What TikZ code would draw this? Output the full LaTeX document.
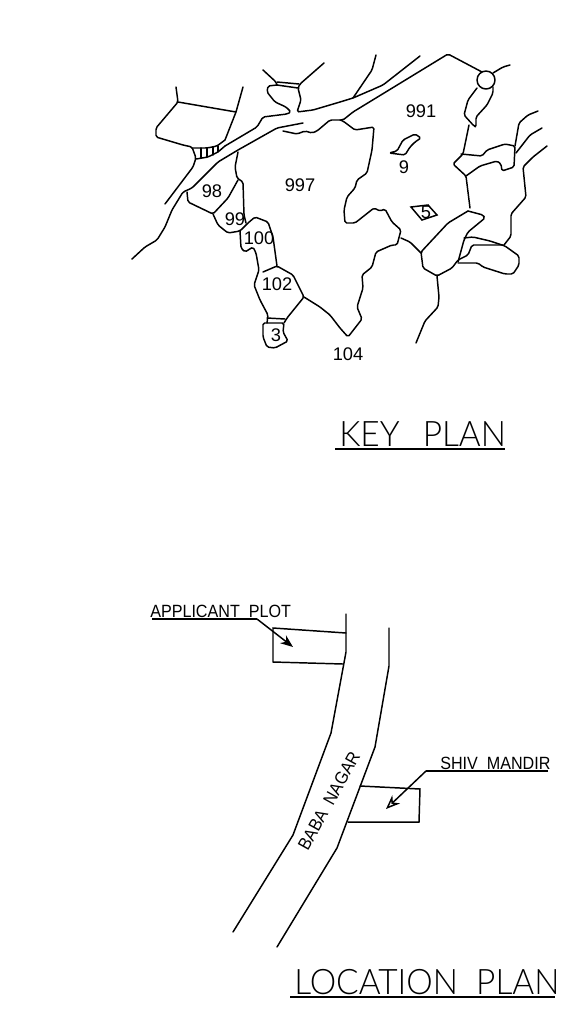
\documentclass[tikz,border=0pt]{standalone}
\usepackage{fontspec}
\setmainfont{Liberation Sans}
\newfontfamily\notefont[FakeStretch=0.91]{Liberation Sans}
\newfontfamily\titlefont[FakeStretch=0.95]{Lato Light}
\usetikzlibrary{arrows.meta}
\tikzset{
  boundary/.style={line width=1.05pt, line join=round, line cap=round, rounded corners=1.2pt},
  straightline/.style={line width=1.05pt, line join=miter, line cap=round},
  underline/.style={line width=1.3pt},
  numlabel/.style={inner sep=0pt, font=\fontsize{13}{15}\selectfont},
  notelabel/.style={inner sep=0pt, anchor=base west, font=\notefont\fontsize{12.6}{14}\selectfont},
  titlelabel/.style={inner sep=0pt, anchor=base west, font=\titlefont\fontsize{25}{28}\selectfont},
  leader/.style={line width=1.05pt, -{Stealth[length=9pt,width=7pt]}}
}
\begin{document}
\begin{tikzpicture}[x=0.025cm,y=-0.025cm]
            \useasboundingbox (0,0) rectangle (573,1034);

            % Key plan, left block
            \draw[boundary] (176,87) -- (178,102) -- (156,128) -- (156,137) -- (183,145) -- (192,147) -- (196,158) -- (193,167) -- (165,204);
            \draw[boundary] (178,102) -- (236,112);
            \draw[boundary] (243,87) -- (236,112) -- (225,140);
            \draw[boundary] (192,148) -- (207,148) -- (217,146) -- (225,140);
            \draw[boundary] (196,159) -- (208,157) -- (218,152) -- (225,146);
            \draw[boundary] (201,148) -- (201,158);
            \draw[boundary] (207,148) -- (207,157);
            \draw[boundary] (213,147) -- (213,155);
            \draw[boundary] (218,146) -- (218,152);

            % Key plan, upper road
            \draw[boundary] (225,146) -- (257,127) -- (263,117) -- (287,114) -- (291,112) -- (286,107) -- (275,102) -- (267,92) -- (268,86) -- (277,85);
            \draw[boundary] (277,82) -- (299,84);
            \draw[boundary] (277,85) -- (298,88);
            \draw[boundary] (263,70) -- (276,82) -- (277,85);
            \draw[boundary] (324,63) -- (300,84) -- (298,88) -- (301,100) -- (297,112) -- (313,110) -- (340,102) -- (353,98) -- (383,85) -- (420,56);
            \draw[boundary] (353,98) -- (372,70) -- (376,55);

            % Key plan, lower road
            \draw[boundary] (132,259) -- (145,247) -- (157,240) -- (165,227) -- (172,210) -- (183,192) -- (192,188) -- (218,162) -- (238,150) -- (277,128) -- (303,123);
            \draw[boundary] (283,131) -- (297,134) -- (305,131) -- (312,133) -- (317,131) -- (330,120) -- (343,120) -- (353,112) -- (448,54) -- (482,72);
            \draw[boundary] (340,120) -- (343,121) -- (355,130) -- (374,127) -- (372,150) -- (367,173) -- (357,180) -- (355,188) -- (347,197) -- (344,210) -- (345,223) -- (355,223) -- (374,208) -- (380,211) -- (385,209) -- (392,222) -- (401,230) -- (397,245) -- (392,245) -- (376,252) -- (372,267) -- (362,275) -- (363,288) -- (357,307) -- (362,319) -- (348,337) -- (340,328) -- (330,315) -- (320,307) -- (304,297);

            % Key plan, numbered plots
            \draw[boundary] (238,152) -- (235,167) -- (237,178) -- (243,182) -- (244,215) -- (246,223);
            \draw[boundary] (187,192) -- (188,202) -- (213,214) -- (228,198) -- (238,180);
            \draw[boundary] (213,214) -- (218,225) -- (228,233) -- (240,231) -- (248,223) -- (255,217) -- (268,222) -- (273,237) -- (277,266);
            \draw[boundary] (240,231) -- (241,248) -- (245,252) -- (253,247) -- (256,253) -- (259,270) -- (254,285) -- (260,300) -- (268,315) -- (267,323);
            \draw[boundary] (263,272) -- (277,266) -- (293,275) -- (304,297) -- (287,318) -- (284,323);
            \draw[boundary] (267,318) -- (285,319);
            \draw[boundary] (263,323) -- (284,323) -- (283,332) -- (288,341) -- (275,348) -- (267,347) -- (263,337) -- cycle;

            % Key plan, circle and right side
            \draw[boundary] (486,80) circle (9);
            \draw[boundary] (493,73) -- (503,67) -- (510,65);
            \draw[boundary] (477,88) -- (468,100) -- (464,115) -- (474,126) -- (476,127) -- (476,117) -- (487,105) -- (493,93) -- (493,87);
            \draw[boundary] (469,125) -- (463,154) -- (453,164) -- (466,176) -- (470,208);
            \draw[boundary] (461,154) -- (482,156) -- (487,150) -- (505,144) -- (515,146) -- (514,167) -- (502,171) -- (501,164) -- (497,161) -- (480,166) -- (466,176);
            \draw[boundary] (515,146) -- (519,123) -- (528,115) -- (538,111);
            \draw[boundary] (516,153) -- (530,135) -- (542,128);
            \draw[boundary] (547,146) -- (533,157) -- (523,167) -- (526,197) -- (511,214) -- (511,236) -- (504,245);
            \draw[boundary] (468,211) -- (483,215) -- (485,218) -- (468,232) -- (464,240) -- (458,262);
            \draw[boundary] (468,211) -- (448,223) -- (421,252) -- (423,268) -- (437,276) -- (452,268) -- (458,260) -- (468,255) -- (472,245) -- (503,245);
            \draw[boundary] (421,253) -- (410,242) -- (401,238);
            \draw[boundary] (464,238) -- (473,237) -- (490,241) -- (505,246) -- (519,256) -- (519,265) -- (513,274) -- (505,274) -- (483,267) -- (478,263) -- (458,263);
            \draw[boundary] (437,276) -- (439,297) -- (438,307) -- (425,321) -- (416,343);
            \draw[straightline] (411,207) -- (428,205) -- (437,215) -- (422,220) -- cycle;
            \draw[boundary] (389,153) -- (397,151) -- (403,140) -- (415,134) -- (421,138) -- (415,142) -- (410,147) -- (405,155) -- cycle;

            % Key plan, labels
            \node[numlabel] (n991) at (421,111) {991};
            \node[numlabel] (n9) at (404,167) {9};
            \node[numlabel] (n997) at (300,185) {997};
            \node[numlabel] (n98) at (212,191) {98};
            \node[numlabel] (n99) at (235,219) {99};
            \node[numlabel] (n100) at (259,238) {100};
            \node[numlabel] (n102) at (277,284) {102};
            \node[numlabel] (n3) at (276,335) {3};
            \node[numlabel] (n5) at (426,212) {5};
            \node[numlabel] (n104) at (348,354) {104};
            \node[titlelabel] (keyplan) at (339,446) {KEY\ \ \hspace{3.5pt}PLAN};
            \draw[underline] (335,449) -- (505,449);

            % Location plan, road
            \draw[straightline] (346,614) -- (346,652) -- (331,733) -- (293,835) -- (233,932);
            \draw[straightline] (389,628) -- (389,666) -- (375,747) -- (337,848) -- (277,947);
            \node[notelabel, rotate=61, anchor=center] (road) at (329,801) {BABA\ \ NAGAR};

            % Location plan, plots
            \draw[straightline] (346,633) -- (273,628) -- (273,662) -- (343,664);
            \draw[straightline] (360,786) -- (420,789) -- (419,822) -- (348,822);

            % Location plan, leaders
            \node[notelabel] (applicant) at (150,617) {APPLICANT\ \ PLOT};
            \coordinate (applicantbend) at (257,619);
            \coordinate (applicanttip) at (293,647);
            \draw[underline] (152,619) -- (applicantbend);
            \draw[leader] (applicantbend) -- (applicanttip);
            \node[notelabel] (mandir) at (440,769) {SHIV\ \ MANDIR};
            \coordinate (mandirbend) at (426,771);
            \coordinate (mandirtip) at (386,809);
            \draw[underline] (548,771) -- (mandirbend);
            \draw[leader, -{Stealth[length=10pt,width=8pt,open,fill=white]}] (mandirbend) -- (mandirtip);
            \node[titlelabel] (locationplan) at (294,994) {LOCATION\ \ PLAN};
            \draw[underline] (290,997) -- (555,997);
        \end{tikzpicture}
\end{document}
